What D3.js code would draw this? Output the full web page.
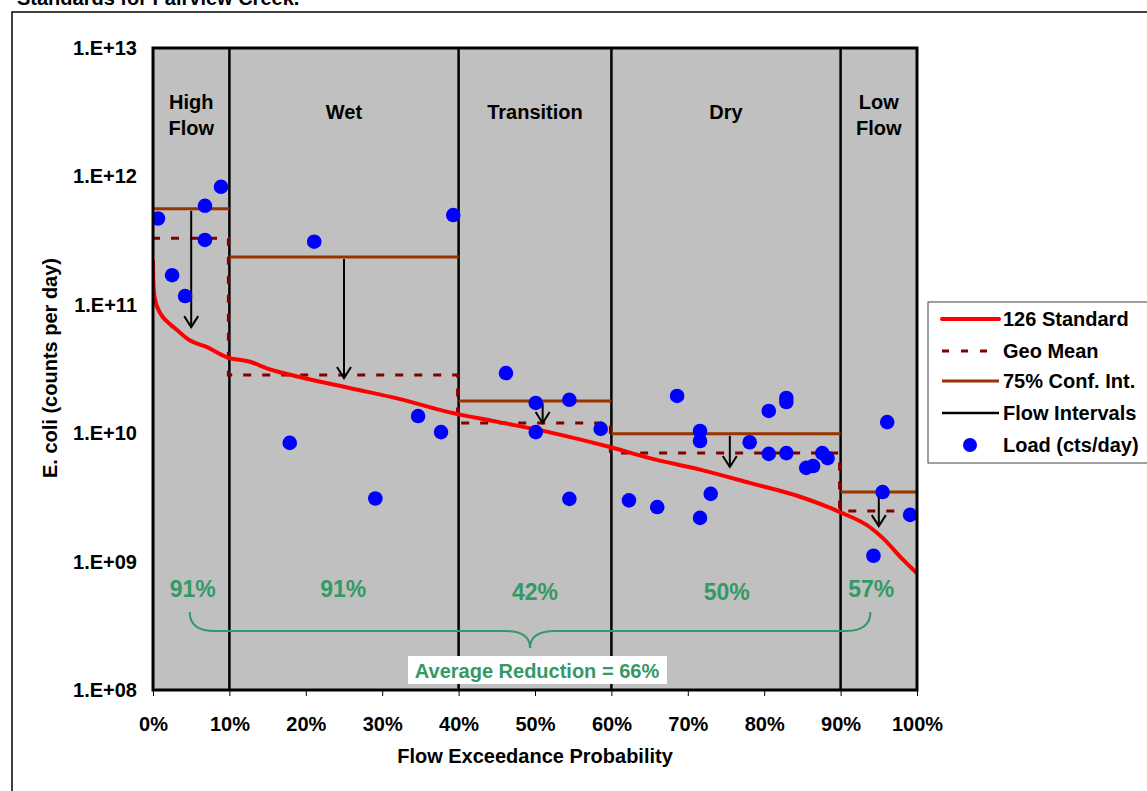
<!DOCTYPE html>
<html><head><meta charset="utf-8">
<script src="https://cdn.jsdelivr.net/npm/d3@7"></script>
<style>
body{margin:0;background:#fff;}
svg{display:block;font-family:Arial,"Liberation Sans",sans-serif;font-weight:bold;}
</style></head>
<body><svg id="c" width="1147" height="791"></svg>
<script>
// ---- data ----
const yTickValues = [1e8, 1e9, 1e10, 1e11, 1e12, 1e13];
const yTickLabels = ["1.E+08","1.E+09","1.E+10","1.E+11","1.E+12","1.E+13"];
const xTickValues = [0,10,20,30,40,50,60,70,80,90,100];
const flowBounds = [0, 10, 40, 60, 90, 100];
const zoneNames = [["High","Flow"],["Wet"],["Transition"],["Dry"],["Low","Flow"]];
const confInt = [5.6e11, 2.36e11, 1.78e10, 9.9e9, 3.48e9];
const geoMean = [3.3e11, 2.84e10, 1.2e10, 7.0e9, 2.48e9];
const arrowX = [5, 25, 51, 75.5, 95];
const arrowTo = [6.7e10, 2.69e10, 1.2e10, 5.46e9, 1.89e9];
const reductions = ["91%","91%","42%","50%","57%"];
const reductionX = [5.2, 24.9, 50, 75.1, 94];
const reductionY = [5.3e8, 5.3e8, 5.0e8, 5.0e8, 5.3e8];
const stdFlow = [0, 0.03, 0.1, 0.3, 0.7, 1.3, 2.2, 3.1, 4.8, 7.0, 9.7, 12.7, 14.9, 19.2, 25.7, 32.2, 38.7, 45.3, 51.8, 59.8, 65.0, 71.6, 78.1, 84.7, 89.9, 93.8, 95.5, 98.2, 100];
const stdLoad = [2.23e11, 1.6e11, 1.3e11, 1.08e11, 9.2e10, 8.0e10, 7.1e10, 6.4e10, 5.3e10, 4.7e10, 3.9e10, 3.6e10, 3.2e10, 2.74e10, 2.25e10, 1.85e10, 1.46e10, 1.22e10, 1.02e10, 7.8e9, 6.4e9, 5.2e9, 4.1e9, 3.2e9, 2.43e9, 1.86e9, 1.53e9, 1.03e9, 8.1e8];
const loadFlow = [0.65, 2.5, 4.2, 6.8, 6.8, 8.9,
  17.9, 21.1, 29.1, 34.7, 37.7, 39.3,
  46.2, 50.1, 50.1, 54.5, 54.5, 58.6,
  62.3, 66.0, 68.6, 71.6, 71.6, 71.6, 73.0, 78.1, 80.6, 80.6, 82.9, 82.9, 82.9, 85.5, 86.4, 87.6, 88.3,
  94.3, 95.5, 96.1, 99.1];
const loadVal = [4.7e11, 1.7e11, 1.17e11, 5.9e11, 3.2e11, 8.3e11,
  8.4e9, 3.1e11, 3.1e9, 1.36e10, 1.02e10, 5.0e11,
  2.94e10, 1.72e10, 1.02e10, 1.82e10, 3.08e9, 1.08e10,
  3.0e9, 2.66e9, 1.95e10, 1.04e10, 8.7e9, 2.19e9, 3.37e9, 8.5e9, 1.49e10, 6.9e9, 1.88e10, 1.75e10, 7.0e9, 5.37e9, 5.55e9, 7.0e9, 6.4e9,
  1.11e9, 3.48e9, 1.22e10, 2.31e9];
const legendLabels = ["126 Standard","Geo Mean","75% Conf. Int.","Flow Intervals","Load (cts/day)"];

// ---- drawing ----
const svg = d3.select("#c");
const L=153, R=917, T=48, B=690;
const x = d3.scaleLinear().domain([0,100]).range([L,R]);
const y = d3.scaleLog().domain([1e8,1e13]).range([B,T]);
const GREEN = "#339966", BROWN="#993300", DRED="#800000";
const FS = 20;

// title (cut off at top, as in the source)
svg.append("text").attr("x",17).attr("y",5).attr("font-size",FS).text("Standards for Fairview Creek.");
// outer frame
svg.append("rect").attr("x",12).attr("y",12).attr("width",1150).attr("height",800)
  .attr("fill","none").attr("stroke","#000").attr("stroke-width",1.5);

svg.append("defs").append("clipPath").attr("id","pc").append("rect")
  .attr("x",L).attr("y",T).attr("width",R-L).attr("height",B-T);

svg.append("rect").attr("x",L).attr("y",T).attr("width",R-L).attr("height",B-T).attr("fill","#c0c0c0");

const g = svg.append("g").attr("clip-path","url(#pc)");

// flow interval lines
g.selectAll(".fl").data(flowBounds.slice(1,-1)).join("line")
  .attr("x1",d=>x(d)).attr("x2",d=>x(d)).attr("y1",T).attr("y2",B)
  .attr("stroke","#000").attr("stroke-width",2.5);

// conf int
g.selectAll(".ci").data(confInt).join("line")
  .attr("x1",(d,i)=>x(flowBounds[i])).attr("x2",(d,i)=>x(flowBounds[i+1]))
  .attr("y1",d=>y(d)).attr("y2",d=>y(d))
  .attr("stroke",BROWN).attr("stroke-width",3);

// geo mean step
const gmPts = geoMean.map((v,i)=>[flowBounds[i],v]).concat([[100,geoMean[geoMean.length-1]]]);
g.append("path").attr("d", d3.line().x(d=>x(d[0])-1).y(d=>y(d[1])).curve(d3.curveStepAfter)(gmPts))
  .attr("fill","none").attr("stroke",DRED).attr("stroke-width",3).attr("stroke-dasharray","8,11");

// standard curve
g.append("path").attr("d", d3.line().x((d,i)=>x(stdFlow[i])).y(d=>y(d)).curve(d3.curveMonotoneX)(stdLoad))
  .attr("fill","none").attr("stroke","#ff0000").attr("stroke-width",4).attr("stroke-linejoin","round");

// arrows
arrowX.forEach((ax,i)=>{
  const px=x(ax), y0=y(confInt[i])+2, y1=y(arrowTo[i]);
  g.append("line").attr("x1",px).attr("x2",px).attr("y1",y0).attr("y2",y1).attr("stroke","#000").attr("stroke-width",2);
  g.append("path").attr("d",`M${px-7},${y1-11}L${px},${y1}L${px+7},${y1-11}`)
    .attr("fill","none").attr("stroke","#000").attr("stroke-width",2);
});

// points
g.selectAll(".pt").data(loadVal).join("circle")
  .attr("cx",(d,i)=>x(loadFlow[i])).attr("cy",d=>y(d)).attr("r",7.3).attr("fill","#0000ff");

// zone names
zoneNames.forEach((lines,i)=>{
  const cx = x((flowBounds[i]+flowBounds[i+1])/2);
  const t = svg.append("text").attr("text-anchor","middle").attr("font-size",FS);
  if(lines.length===2){
    t.append("tspan").attr("x",cx).attr("y",109).text(lines[0]);
    t.append("tspan").attr("x",cx).attr("y",135).text(lines[1]);
  } else {
    t.append("tspan").attr("x",cx).attr("y",119).text(lines[0]);
  }
});

// reductions
svg.selectAll(".red").data(reductions).join("text")
  .attr("x",(d,i)=>x(reductionX[i])).attr("y",(d,i)=>y(reductionY[i]))
  .attr("text-anchor","middle").attr("font-size",23).attr("fill",GREEN).text(d=>d);

// brace
const bx0=x(4.8), bx1=x(93.9), bm=(bx0+bx1)/2, by0=612, by1=631, by2=648;
svg.append("path").attr("d",
  `M${bx0},${by0} Q${bx0},${by1} ${bx0+25},${by1} L${bm-25},${by1} Q${bm},${by1} ${bm},${by2} Q${bm},${by1} ${bm+25},${by1} L${bx1-25},${by1} Q${bx1},${by1} ${bx1},${by0}`)
  .attr("fill","none").attr("stroke",GREEN).attr("stroke-width",2);
svg.append("rect").attr("x",408).attr("y",656).attr("width",259).attr("height",28).attr("fill","#fff");
svg.append("text").attr("x",537).attr("y",678).attr("text-anchor","middle").attr("font-size",FS)
  .attr("fill",GREEN).text("Average Reduction = 66%");

// border
svg.append("rect").attr("x",L).attr("y",T).attr("width",R-L).attr("height",B-T)
  .attr("fill","none").attr("stroke","#000").attr("stroke-width",3);

// axes
const ya = svg.append("g").attr("transform",`translate(${L},0)`)
  .call(d3.axisLeft(y).tickValues(yTickValues).tickFormat((d,i)=>yTickLabels[i]).tickSize(0).tickPadding(16));
ya.select(".domain").remove();
ya.selectAll("text").attr("font-size",FS).attr("font-family",null).attr("fill","#000");
const xa = svg.append("g").attr("transform",`translate(0,${B})`)
  .call(d3.axisBottom(x).tickValues(xTickValues).tickFormat(d=>d+"%").tickSize(6).tickPadding(21));
xa.select(".domain").remove();
xa.selectAll("line").attr("stroke","#000").attr("stroke-width",1);
xa.selectAll("text").attr("font-size",FS).attr("font-family",null).attr("fill","#000");

svg.append("text").attr("x",535).attr("y",763).attr("text-anchor","middle").attr("font-size",FS).text("Flow Exceedance Probability");
svg.append("text").attr("transform","translate(57,368) rotate(-90)").attr("text-anchor","middle").attr("font-size",FS).text("E. coli (counts per day)");

// legend
const lg = svg.append("g");
lg.append("rect").attr("x",928).attr("y",302).attr("width",230).attr("height",161).attr("fill","#fff").attr("stroke","#404040").attr("stroke-width",1);
const ly = [319,351,381,413,445];
legendLabels.forEach((t,i)=>{
  const yy = ly[i];
  if(i===0) lg.append("line").attr("x1",942).attr("x2",999).attr("y1",yy).attr("y2",yy).attr("stroke","#ff0000").attr("stroke-width",4).attr("stroke-linecap","round");
  if(i===1) lg.append("line").attr("x1",942).attr("x2",999).attr("y1",yy).attr("y2",yy).attr("stroke",DRED).attr("stroke-width",3).attr("stroke-dasharray","7,12");
  if(i===2) lg.append("line").attr("x1",942).attr("x2",999).attr("y1",yy).attr("y2",yy).attr("stroke",BROWN).attr("stroke-width",3);
  if(i===3) lg.append("line").attr("x1",942).attr("x2",999).attr("y1",yy).attr("y2",yy).attr("stroke","#000").attr("stroke-width",2.5);
  if(i===4) lg.append("circle").attr("cx",970).attr("cy",yy).attr("r",7).attr("fill","#0000ff");
  lg.append("text").attr("x",1003).attr("y",yy).attr("dy","0.35em").attr("font-size",FS).text(t);
});
</script></body></html>
